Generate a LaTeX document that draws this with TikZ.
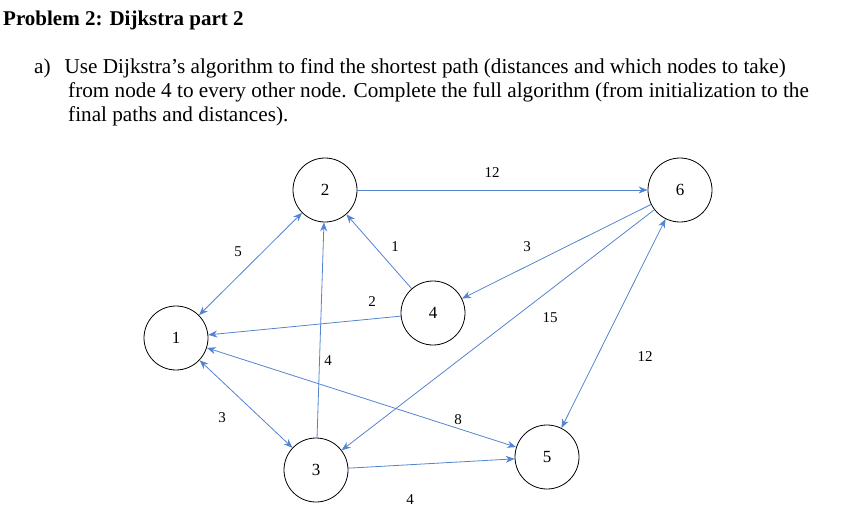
\documentclass[tikz,border=0pt]{standalone}
\usepackage{fontspec}
\setmainfont{Liberation Serif}
\usetikzlibrary{arrows.meta}
\definecolor{eblue}{RGB}{84,132,206}
\begin{document}
\begin{tikzpicture}[x=1pt,y=-1pt,
  vert/.style={circle,draw,thick,minimum size=64pt,inner sep=0pt,font=\fontsize{17}{17}\selectfont},
  edge/.style={eblue,line width=0.8pt,-{Stealth[length=9pt,width=7pt]}},
  bedge/.style={eblue,line width=0.8pt,{Stealth[length=9pt,width=7pt]}-{Stealth[length=9pt,width=7pt]}},
  lab/.style={font=\fontsize{15}{15}\selectfont}]
\useasboundingbox (0,0) rectangle (841,520);
\node[anchor=west,font=\fontsize{21}{23}\selectfont\bfseries,inner sep=0pt] (title) at (3,20) {Problem 2: Dijkstra part 2};
\node[anchor=north west,font=\fontsize{21.2}{24}\selectfont,align=left,inner sep=0pt] (q) at (34,58)
 {a)\hspace{14pt}Use Dijkstra’s algorithm to find the shortest path (distances and which nodes to take)\\
 \hspace{34pt}from node 4 to every other node. Complete the full algorithm (from initialization to the\\
 \hspace{34pt}final paths and distances).};
\node[vert] (n2) at (325,190) {2};
\node[vert] (n6) at (680,190) {6};
\node[vert] (n4) at (433,313) {4};
\node[vert] (n1) at (176,338) {1};
\node[vert] (n3) at (316,470) {3};
\node[vert] (n5) at (547,457) {5};
\draw[edge] (n2) -- (n6);
\draw[bedge] (n1) -- (n2);
\draw[edge] (n4) -- (n2);
\draw[edge] (n6) -- (n4);
\draw[edge] (n4) -- (n1);
\draw[edge] (n6) -- (n3);
\draw[bedge] (n6) -- (n5);
\draw[edge] (n3) -- (n2);
\draw[bedge] (n1) -- (n3);
\draw[bedge] (n1) -- (n5);
\draw[edge] (n3) -- (n5);
\node[lab] (l1) at (492,173) {12};
\node[lab] (l2) at (238,252) {5};
\node[lab] (l3) at (395,247) {1};
\node[lab] (l4) at (527,247) {3};
\node[lab] (l5) at (372,302) {2};
\node[lab] (l6) at (550,318) {15};
\node[lab] (l7) at (645,357) {12};
\node[lab] (l8) at (328,361) {4};
\node[lab] (l9) at (222,418) {3};
\node[lab] (l10) at (458,420) {8};
\node[lab] (l11) at (410,500) {4};
\end{tikzpicture}
\end{document}
